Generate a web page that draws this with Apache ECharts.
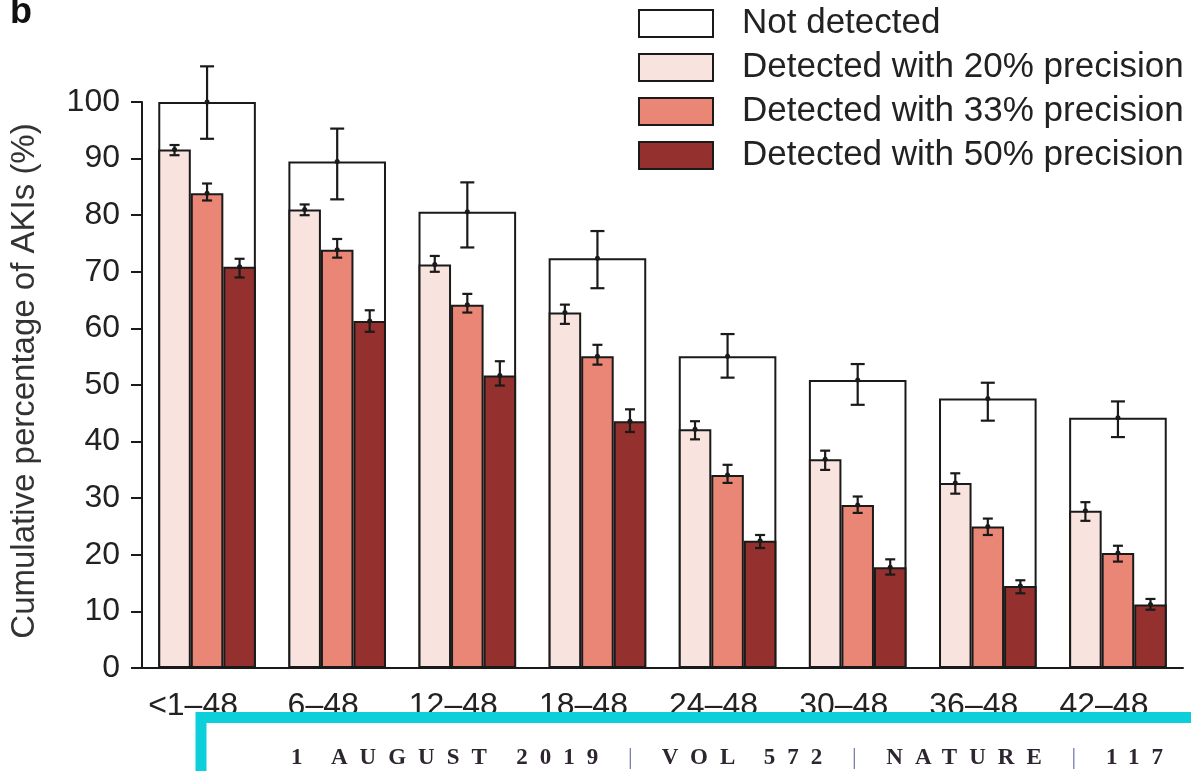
<!DOCTYPE html>
<html>
<head>
<meta charset="utf-8">
<script src="https://cdn.jsdelivr.net/npm/echarts@6/dist/echarts.min.js"></script>
<style>
html,body{margin:0;padding:0;background:#fff;}
#wrap{position:relative;width:1191px;height:771px;overflow:hidden;}
#chart{width:1191px;height:771px;}
#footer{position:absolute;left:291px;top:744px;line-height:26px;white-space:pre;font-family:"Liberation Serif",serif;font-weight:bold;font-size:23px;letter-spacing:12px;color:#2d2630;}
#footer .bar{color:#6d6fa0;font-weight:normal;}
</style>
</head>
<body>
<div id="wrap">
<div id="chart"></div>
<div id="footer"></div>
</div>
<script>
// ---- data ----
const categories = ['<1–48', '6–48', '12–48', '18–48', '24–48', '30–48', '36–48', '42–48'];
const seriesNames = ['Not detected', 'Detected with 20% precision', 'Detected with 33% precision', 'Detected with 50% precision'];
const notDetected = [100, 89.5, 80.6, 72.4, 55.1, 50.9, 47.6, 44.2];
const notDetectedLow = [93.5, 82.8, 74.3, 67.1, 51.3, 46.5, 43.7, 40.8];
const notDetectedHigh = [106.3, 95.3, 85.8, 77.2, 59.0, 53.7, 50.4, 47.1];
const det20 = [91.6, 81.0, 71.3, 62.8, 42.2, 36.9, 32.7, 27.8];
const det20Low = [90.6, 80.0, 70.0, 60.8, 40.4, 35.0, 30.8, 26.0];
const det20High = [92.4, 81.9, 72.8, 64.2, 43.6, 38.4, 34.4, 29.3];
const det33 = [83.9, 73.9, 64.2, 55.1, 34.1, 28.8, 25.0, 20.3];
const det33Low = [82.6, 72.5, 62.8, 53.6, 32.7, 27.4, 23.5, 18.8];
const det33High = [85.6, 75.8, 66.1, 57.1, 35.9, 30.3, 26.4, 21.6];
const det50 = [70.9, 61.3, 51.7, 43.6, 22.5, 17.8, 14.5, 11.2];
const det50Low = [69.0, 59.4, 49.9, 41.7, 21.2, 16.5, 13.2, 10.3];
const det50High = [72.3, 63.2, 54.2, 45.7, 23.5, 19.2, 15.5, 12.2];
const yTicks = [0, 100, 10]; // min, max, interval
const footerParts = ['1 AUGUST 2019 ', '|', ' VOL 572 ', '|', ' NATURE ', '|', ' 117'];

const colors = ['#ffffff', '#f9e3de', '#ea8675', '#94302d'];
const edge = '#1a1a1a';

// footer as real HTML text (letter-spaced)
const footer = document.getElementById('footer');
footerParts.forEach(p => {
  const s = document.createElement('span');
  s.textContent = p;
  if (p === '|') s.className = 'bar';
  footer.appendChild(s);
});

function errData(lo, hi, mid) {
  return mid.map((m, i) => [i, lo[i], hi[i], m]);
}
function errSeries(name, lo, hi, mid, slot, capHalf) {
  return {
    type: 'custom',
    name: name + ' error',
    xAxisIndex: 0,
    z: 10,
    silent: true,
    data: errData(lo, hi, mid),
    renderItem: function (params, api) {
      const i = api.value(0);
      const bw = api.size([1, 0])[0];
      const off = slot * bw * 0.25;
      const pLo = api.coord([i, api.value(1)]);
      const pHi = api.coord([i, api.value(2)]);
      const pMid = api.coord([i, api.value(3)]);
      const x = pLo[0] + off;
      const st = { stroke: edge, lineWidth: 2.2 };
      return {
        type: 'group',
        children: [
          { type: 'line', shape: { x1: x, y1: pLo[1], x2: x, y2: pHi[1] }, style: st },
          { type: 'line', shape: { x1: x - capHalf, y1: pLo[1], x2: x + capHalf, y2: pLo[1] }, style: st },
          { type: 'line', shape: { x1: x - capHalf, y1: pHi[1], x2: x + capHalf, y2: pHi[1] }, style: st },
          { type: 'circle', shape: { cx: x, cy: pMid[1], r: 2.5 }, style: { fill: edge } }
        ]
      };
    }
  };
}

const chart = echarts.init(document.getElementById('chart'), null, { renderer: 'canvas' });
const barItem = c => ({ color: c, borderColor: edge, borderWidth: 2 });

chart.setOption({
  animation: false,
  backgroundColor: '#ffffff',
  textStyle: { fontFamily: 'Liberation Sans, Arial, sans-serif' },
  grid: { left: 141, right: 8, top: 102, bottom: 103, containLabel: false },
  legend: {
    data: seriesNames,
    orient: 'vertical',
    left: 633,
    top: 1,
    itemWidth: 74,
    itemHeight: 27,
    itemGap: 9,
    icon: 'rect',
    selectedMode: false,
    itemStyle: { borderColor: edge, borderWidth: 2 },
    textStyle: { fontSize: 35, color: '#222', padding: [0, 0, 0, 24], lineHeight: 34, fontFamily: 'Liberation Sans, Arial, sans-serif' }
  },
  xAxis: [
    {
      type: 'category',
      data: categories,
      axisLine: { lineStyle: { color: edge, width: 2 } },
      axisTick: { alignWithLabel: true, length: 10, lineStyle: { color: edge, width: 2 } },
      axisLabel: { fontSize: 32, color: '#222', margin: 22, interval: 0, padding: [0, 28, 0, 0] },
      splitLine: { show: false }
    },
    {
      type: 'category',
      data: categories,
      show: false
    }
  ],
  yAxis: {
    type: 'value',
    min: yTicks[0],
    max: yTicks[1],
    interval: yTicks[2],
    name: 'Cumulative percentage of AKIs (%)',
    nameLocation: 'middle',
    nameRotate: 90,
    nameGap: 101,
    nameTextStyle: { fontSize: 33, color: '#333', padding: [0, 0, 0, 8] },
    axisLine: { show: true, lineStyle: { color: edge, width: 2 } },
    axisTick: { show: true, length: 11, lineStyle: { color: edge, width: 2 } },
    axisLabel: { fontSize: 32, color: '#222', margin: 22 },
    splitLine: { show: false }
  },
  series: [
    {
      type: 'bar', name: seriesNames[0], xAxisIndex: 1, data: notDetected,
      barCategoryGap: '25%', itemStyle: barItem(colors[0]), z: 1
    },
    {
      type: 'bar', name: seriesNames[1], xAxisIndex: 0, data: det20,
      barGap: '0%', barCategoryGap: '25%', itemStyle: barItem(colors[1]), z: 3
    },
    {
      type: 'bar', name: seriesNames[2], xAxisIndex: 0, data: det33,
      barGap: '0%', barCategoryGap: '25%', itemStyle: barItem(colors[2]), z: 3
    },
    {
      type: 'bar', name: seriesNames[3], xAxisIndex: 0, data: det50,
      barGap: '0%', barCategoryGap: '25%', itemStyle: barItem(colors[3]), z: 3
    },
    errSeries(seriesNames[0], notDetectedLow, notDetectedHigh, notDetected, 0, 7),
    errSeries(seriesNames[1], det20Low, det20High, det20, -1, 5),
    errSeries(seriesNames[2], det33Low, det33High, det33, 0, 5),
    errSeries(seriesNames[3], det50Low, det50High, det50, 1, 5)
  ],
  graphic: [
    {
      type: 'text', left: 10, top: -5, z: 100,
      style: { text: 'b', font: 'bold 36px Liberation Sans, Arial, sans-serif', fill: '#111' }
    },
    {
      type: 'rect', z: 100,
      shape: { x: 201, y: 717.5, width: 1100, height: 120 },
      style: { fill: '#ffffff', stroke: '#0ccfd9', lineWidth: 11 }
    }
  ]
});
</script>
</body>
</html>
